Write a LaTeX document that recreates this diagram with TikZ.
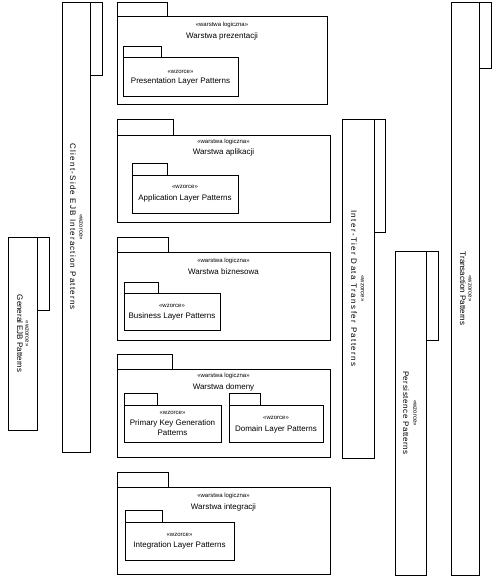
\documentclass[tikz,border=0pt]{standalone}
\usepackage{fontspec}
\setmainfont{Liberation Sans}
\usepackage{tikz}

\tikzset{
    pkgline/.style={black, line width=0.8pt},
    stereo/.style={inner sep=0pt, font=\fontsize{6}{7}\selectfont},
    pkgname/.style={inner sep=0pt, align=center, font=\fontsize{8}{10}\selectfont},
    vstereo/.style={stereo, rotate=-90, font=\fontsize{6}{7}\selectfont},
    vname/.style={pkgname, rotate=-90},
}

\begin{document}
\begin{tikzpicture}[x=1pt,y=-1pt]
    \useasboundingbox (0,0) rectangle (501,578);

    % vertical packages
    \draw[pkgline] (8,237) rectangle (37,430);
    \draw[pkgline] (37,237) rectangle (49,310);
    \node[vstereo] (genst) at (27,333.5) {«wzorce»};
    \node[vname] (genname) at (20,333.5) {General EJB Patterns};

    \draw[pkgline] (62,2) rectangle (90,452);
    \draw[pkgline] (90,2) rectangle (102,75);
    \node[vstereo] (clist) at (81,227) {«wzorce»};
    \node[vname] (cliname) at (73,227) {\addfontfeature{LetterSpace=15}Client-Side EJB Interaction Patterns};

    \draw[pkgline] (342,119) rectangle (374,458);
    \draw[pkgline] (374,119) rectangle (385,232);
    \node[vstereo] (itst) at (362.5,288.5) {«wzorce»};
    \node[vname] (itname) at (354,288.5) {\addfontfeature{LetterSpace=18}Inter-Tier Data Transfer Patterns};

    \draw[pkgline] (395,251) rectangle (426,575);
    \draw[pkgline] (426,251) rectangle (438,340);
    \node[vstereo] (perst) at (415,413) {«wzorce»};
    \node[vname] (pername) at (406,413) {\addfontfeature{LetterSpace=7}Persistence Patterns};

    \draw[pkgline] (451,2) rectangle (479,575);
    \draw[pkgline] (479,2) rectangle (491,68);
    \node[vstereo] (trst) at (470,288.5) {«wzorce»};
    \node[vname] (trname) at (463,288.5) {Transaction Patterns};

    % logical layers
    \draw[pkgline] (117,2) rectangle (167,16);
    \draw[pkgline] (117,16) rectangle (327,104);
    \node[stereo] (presst) at (222,25) {«warstwa logiczna»};
    \node[pkgname] (presname) at (222,36) {Warstwa prezentacji};
    \draw[pkgline] (123,46) rectangle (161,57);
    \draw[pkgline] (123,57) rectangle (238,96);
    \node[stereo] (plpst) at (180.5,71.7) {«wzorce»};
    \node[pkgname] (plpname) at (180.5,81.7) {Presentation Layer Patterns};

    \draw[pkgline] (117,119) rectangle (173,135);
    \draw[pkgline] (117,135) rectangle (330,222);
    \node[stereo] (appst) at (223.5,142) {«warstwa logiczna»};
    \node[pkgname] (appname) at (223.5,152) {Warstwa aplikacji};
    \draw[pkgline] (132,163) rectangle (167,175);
    \draw[pkgline] (132,175) rectangle (238,213);
    \node[stereo] (alpst) at (185,187) {«wzorce»};
    \node[pkgname] (alpname) at (185,198.3) {Application Layer Patterns};

    \draw[pkgline] (117,237) rectangle (168,252);
    \draw[pkgline] (117,252) rectangle (330,340);
    \node[stereo] (busst) at (223.5,261) {«warstwa logiczna»};
    \node[pkgname] (busname) at (223.5,272) {Warstwa biznesowa};
    \draw[pkgline] (124,282) rectangle (158,293);
    \draw[pkgline] (124,293) rectangle (220,330);
    \node[stereo] (blpst) at (172,306) {«wzorce»};
    \node[pkgname] (blpname) at (172,316) {Business Layer Patterns};

    \draw[pkgline] (117,354) rectangle (172,369);
    \draw[pkgline] (117,369) rectangle (330,457);
    \node[stereo] (domst) at (223.5,376) {«warstwa logiczna»};
    \node[pkgname] (domname) at (223.5,387) {Warstwa domeny};
    \draw[pkgline] (124,393) rectangle (157,405);
    \draw[pkgline] (124,405) rectangle (221,442);
    \node[stereo] (pkgst) at (172.5,413) {«wzorce»};
    \node[pkgname] (pkgname) at (172.5,428) {Primary Key Generation\\Patterns};
    \draw[pkgline] (229,393) rectangle (260,405);
    \draw[pkgline] (229,405) rectangle (323,442);
    \node[stereo] (dlpst) at (276,418.3) {«wzorce»};
    \node[pkgname] (dlpname) at (276,429) {Domain Layer Patterns};

    \draw[pkgline] (117,472) rectangle (168,487);
    \draw[pkgline] (117,487) rectangle (330,574);
    \node[stereo] (intst) at (223.5,496) {«warstwa logiczna»};
    \node[pkgname] (intname) at (223.5,507) {Warstwa integracji};
    \draw[pkgline] (125,510) rectangle (162,522);
    \draw[pkgline] (125,522) rectangle (234,560);
    \node[stereo] (ilpst) at (179.5,535) {«wzorce»};
    \node[pkgname] (ilpname) at (179.5,545.7) {Integration Layer Patterns};
\end{tikzpicture}
\end{document}
